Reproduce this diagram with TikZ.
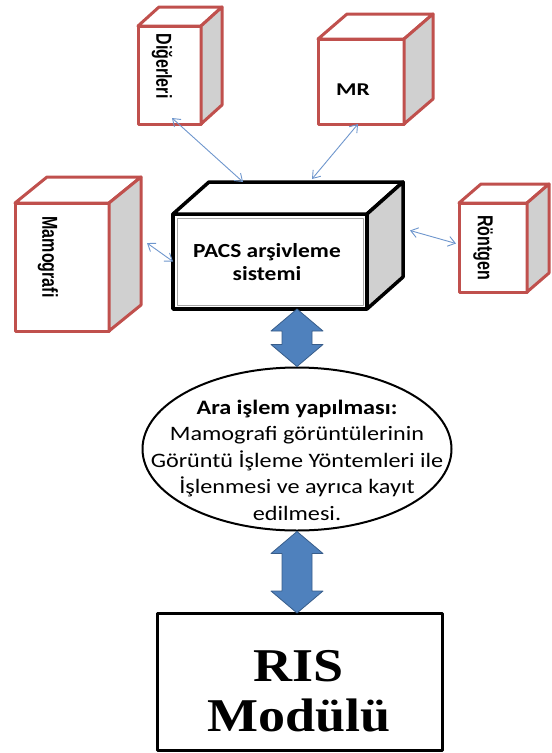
\documentclass[tikz,border=0pt]{standalone}
\usepackage{fontspec}
\setmainfont{Carlito}
\newfontfamily\risfont{Liberation Serif}
\newfontfamily\tagfont{Liberation Sans}
\usetikzlibrary{shapes.geometric,arrows.meta,calc}
\definecolor{boxred}{RGB}{192,80,77}
\definecolor{sidegray}{RGB}{208,208,208}
\definecolor{linkblue}{RGB}{110,150,205}
\definecolor{fatblue}{RGB}{79,129,189}
\definecolor{fatedge}{RGB}{56,93,138}

% top and right faces of a box whose front face is node #1
\newcommand\boxshell[4]{%
  \draw[#4, fill=white] (#1.north west) -- ($(#1.north west)+(#2,#3)$)
     -- ($(#1.north east)+(#2,#3)$) -- (#1.north east) -- cycle;
  \draw[#4, fill=sidegray] (#1.north east) -- ($(#1.north east)+(#2,#3)$)
     -- ($(#1.south east)+(#2,#3)$) -- (#1.south east) -- cycle;}

% thick two-headed block arrow from tip #1 (top) to tip #2 (bottom)
\newcommand\fatlink[2]{%
  \draw[fatarrow] (#1) -- ($(#1)+(26,22)$) -- ($(#1)+(15,22)$)
     -- ($(#2)+(15,-22)$) -- ($(#2)+(26,-22)$) -- (#2)
     -- ($(#2)+(-26,-22)$) -- ($(#2)+(-15,-22)$)
     -- ($(#1)+(-15,22)$) -- ($(#1)+(-26,22)$) -- cycle;}

% vertical label, letters stretched in height
\newcommand\tagtext[1]{\scalebox{1}[1.35]{#1}}

\begin{document}
\begin{tikzpicture}[x=1pt,y=-1pt,line join=round,
  redline/.style={draw=boxred,line width=3},
  blackline/.style={draw=black,line width=3.5},
  front/.style={redline,fill=white,inner sep=0,outer sep=0},
  tag/.style={font=\tagfont\bfseries\fontsize{16}{18}\selectfont,inner sep=0,rotate=-90},
  link/.style={draw=linkblue,line width=0.9,
     {Straight Barb[length=7,width=10]}-{Straight Barb[length=7,width=10]}},
  fatarrow/.style={fill=fatblue,draw=fatedge,line width=0.8},
  ovaltext/.style={align=center,font=\fontsize{20.5}{26.5}\selectfont,xscale=1.18,inner sep=0}]

\useasboundingbox (0,0) rectangle (552,753);

% archive box
\node[front,blackline,minimum width=194,minimum height=95] (pacs) at (270,261.5) {};
\boxshell{pacs}{36}{-32}{blackline}
\draw[gray!70,line width=0.6] ($(pacs.north west)+(4,4)$) rectangle ($(pacs.south east)+(-4,-4)$);
\node[align=center,font=\bfseries\fontsize{20}{23}\selectfont,xscale=1.17] (pacstext) at (267,262)
  {PACS arşivleme\\sistemi};

% modality boxes
\node[front,minimum width=63,minimum height=98] (dig) at (169.5,75) {};
\boxshell{dig}{21}{-19}{redline}
\node[tag] (digtext) at ($(dig.center)+(-7.5,-9)$) {\tagtext{Diğerleri}};

\node[front,minimum width=86,minimum height=85] (mr) at (361,81.5) {};
\boxshell{mr}{29}{-25}{redline}
\node[font=\bfseries\fontsize{18}{20}\selectfont,xscale=1.3,inner sep=0] (mrtext) at ($(mr.center)+(-8,8.5)$) {MR};

\node[front,minimum width=94,minimum height=128] (mam) at (62,267) {};
\boxshell{mam}{32}{-26}{redline}
\node[tag] (mamtext) at ($(mam.center)+(-14,-10)$) {\tagtext{Mamografi}};

\node[front,minimum width=68,minimum height=89] (ron) at (493,247.5) {};
\boxshell{ron}{22}{-19}{redline}
\node[tag] (rontext) at ($(ron.center)+(-10,0)$) {\tagtext{Röntgen}};

% links between the modalities and the archive
\draw[link] ($(dig.south)+(2.5,-6)$) -- ($(pacs.north west)+(70,-32)$);
\draw[link] ($(mr.south)+(-3,0)$) -- ($(pacs.north west)+(139,-35)$);
\draw[link] ($(mam.east)+(38,-24)$) -- (pacs.west);
\draw[link] ($(pacs.east)+(43,-31)$) -- ($(ron.west)+(-3,-4)$);

% processing step
\node[ellipse,draw=black,line width=2,fill=white,minimum width=309,minimum height=163,inner sep=0] (oval) at (297,449) {};
\node[ovaltext] (ovaltxt) at (297,460)
  {\textbf{Ara işlem yapılması:}\\Mamografi görüntülerinin\\Görüntü İşleme Yöntemleri ile\\İşlenmesi ve ayrıca kayıt\\edilmesi.};

% RIS module
\node[draw=black,line width=3,minimum width=285,minimum height=137,inner sep=0,outer sep=0] (ris) at (299.5,681.5) {};
\node[align=center,font=\risfont\bfseries\fontsize{47}{50}\selectfont,xscale=1.15] (ristext) at (299,691)
  {RIS\\Modülü};

% block arrows
\fatlink{pacs.south -| oval.north}{oval.north}
\fatlink{oval.south}{ris.north -| oval.south}
\end{tikzpicture}
\end{document}
